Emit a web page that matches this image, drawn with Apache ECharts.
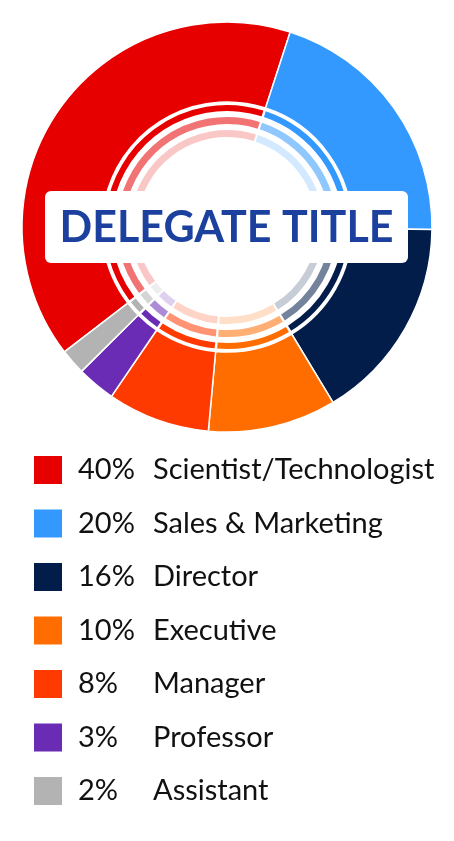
<!DOCTYPE html>
<html>
<head>
<meta charset="utf-8">
<script src="https://cdn.jsdelivr.net/npm/echarts@6/dist/echarts.min.js"></script>
<style>
  html, body { margin: 0; padding: 0; background: #fff; }
  #chart { width: 454px; height: 841px; }
</style>
</head>
<body>
<div id="chart"></div>
<script>
// Delegate title breakdown (percent of delegates)
const categories = ['Scientist/Technologist', 'Sales & Marketing', 'Director', 'Executive', 'Manager', 'Professor', 'Assistant'];
const shares = [40, 20, 16, 10, 8, 3, 2];
const palette = ['#e60000', '#3399ff', '#021d4a', '#ff6d00', '#ff3a00', '#6a2bb5', '#b3b3b3'];
const titleText = 'DELEGATE TITLE';

const center = [227, 227];
const startAngle = 217.5;

function pieData(opacity) {
    return categories.map(function (name, i) {
        return { name: name, value: shares[i], itemStyle: { color: palette[i], opacity: opacity } };
    });
}

// thin decorative rings inside the main donut, fading inwards
const rings = [
    { radius: [116, 122], opacity: 1 },
    { radius: [103, 110], opacity: 0.55 },
    { radius: [90, 97], opacity: 0.22 }
];

const series = [{
    type: 'pie',
    center: center,
    radius: [125, 205],
    startAngle: startAngle,
    label: { show: false },
    labelLine: { show: false },
    emphasis: { disabled: true },
    itemStyle: { borderColor: '#fff', borderWidth: 1.5 },
    data: pieData(1),
    animation: false
}];
rings.forEach(function (r) {
    series.push({
        type: 'pie',
        center: center,
        radius: r.radius,
        startAngle: startAngle,
        padAngle: 1.2,
        silent: true,
        label: { show: false },
        labelLine: { show: false },
        emphasis: { disabled: true },
        data: pieData(r.opacity),
        animation: false
    });
});

const chart = echarts.init(document.getElementById('chart'), null, { renderer: 'canvas' });
chart.setOption({
    backgroundColor: '#fff',
    animation: false,
    legend: {
        orient: 'vertical',
        left: 32,
        top: 454,
        padding: 0,
        itemWidth: 30,
        itemHeight: 30,
        itemGap: 21.5,
        icon: 'rect',
        selectedMode: false,
        data: categories,
        formatter: function (name) {
            const i = categories.indexOf(name);
            return '{p|' + shares[i] + '%}{n|' + name + '}';
        },
        textStyle: {
            fontFamily: 'Lato',
            fontSize: 29,
            color: '#111',
            rich: {
                p: { fontFamily: 'Lato', fontSize: 29, lineHeight: 30, color: '#111', width: 75, padding: [0, 0, 0, 10] },
                n: { fontFamily: 'Lato', fontSize: 29, lineHeight: 30, color: '#111' }
            }
        }
    },
    graphic: [{
        type: 'group',
        left: 45,
        top: 191,
        z: 100,
        children: [{
            type: 'rect',
            z: 100,
            shape: { x: 0, y: 0, width: 363, height: 72, r: 6 },
            style: { fill: '#fff' }
        }, {
            type: 'text',
            z: 101,
            x: 181.5,
            y: 37,
            style: {
                text: titleText,
                fontFamily: 'Lato',
                fontWeight: 'bold',
                fontSize: 43,
                fill: '#1b409e',
                align: 'center',
                verticalAlign: 'middle'
            }
        }]
    }],
    series: series
});
</script>
</body>
</html>
